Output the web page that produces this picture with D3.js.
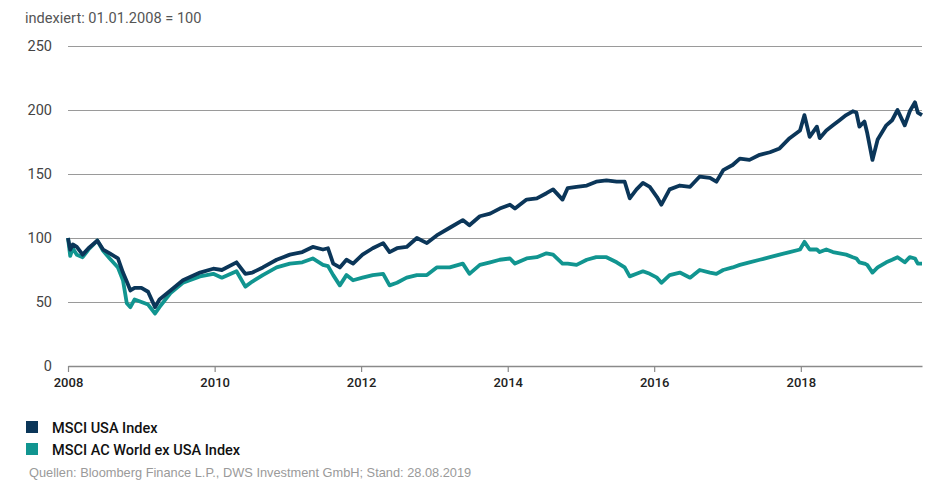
<!DOCTYPE html>
<html>
<head>
<meta charset="utf-8">
<script src="https://cdn.jsdelivr.net/npm/d3@7"></script>
<style>
  body { margin: 0; background: #fff; }
  svg { display: block; }
</style>
</head>
<body>
<div id="chart"></div>
<script>
// data (index, 01.01.2008 = 100)
var dates = ["2008-01-01","2008-01-12","2008-01-25","2008-02-14","2008-03-14","2008-04-12","2008-05-26","2008-06-24",
  "2008-07-27","2008-09-06","2008-10-01","2008-10-20","2008-11-07","2008-11-28","2009-01-01","2009-02-03","2009-03-10",
  "2009-04-01","2009-05-26","2009-07-27","2009-10-20","2009-12-25","2010-02-06","2010-04-20","2010-06-03","2010-07-08",
  "2010-08-29","2010-11-06","2011-01-11","2011-03-14","2011-05-05","2011-06-25","2011-07-20","2011-08-15","2011-09-17",
  "2011-10-20","2011-11-22","2012-01-08","2012-02-28","2012-04-20","2012-05-22","2012-06-28","2012-08-15","2012-10-05",
  "2012-11-24","2013-01-12","2013-03-18","2013-05-22","2013-06-24","2013-08-15","2013-10-05","2013-11-22","2014-01-12",
  "2014-02-06","2014-04-05","2014-05-26","2014-07-13","2014-08-15","2014-10-01","2014-10-27","2014-12-10","2015-01-30",
  "2015-03-18","2015-05-08","2015-06-28","2015-08-07","2015-09-01","2015-10-05","2015-11-06","2015-12-10","2016-01-15",
  "2016-02-06","2016-03-18","2016-05-08","2016-06-28","2016-08-15","2016-10-05","2016-11-06","2016-12-10","2017-01-26",
  "2017-03-03","2017-04-20","2017-06-10","2017-07-31","2017-09-17","2017-11-06","2017-12-28","2018-01-19","2018-02-14",
  "2018-03-22","2018-04-05","2018-05-08","2018-06-10","2018-07-13","2018-08-15","2018-09-17","2018-10-05","2018-10-20",
  "2018-11-14","2018-11-28","2018-12-24","2019-01-19","2019-03-03","2019-04-01","2019-04-28","2019-06-03","2019-06-28",
  "2019-07-24","2019-08-07","2019-08-28"];

var usa = [100,91,95,93,87,92,98,91,
  88,84,73,66,59,61,61,58,46,
  52,59,67,73,76,75,81,72,73,
  77,83,87,89,93,91,92,80,77,
  83,80,87,92,96,89,92,93,100,
  96,102,108,114,110,117,119,123,126,
  123,130,131,135,138,130,139,140,141,
  144,145,144,144,131,138,143,140,132,
  126,138,141,140,148,147,144,153,157,
  162,161,165,167,170,178,184,196,179,
  187,178,184,188,192,196,199,198,187,
  191,182,161,177,188,192,200,188,199,
  206,198,196];

var world = [100,86,92,87,85,91,98,90,
  84,77,67,49,46,52,50,48,41,
  46,57,65,70,72,69,74,62,66,
  71,77,80,81,84,79,78,71,63,
  71,67,69,71,72,63,65,69,71,
  71,77,77,80,72,79,81,83,84,
  80,84,85,88,87,80,80,79,83,
  85,85,81,77,70,72,74,72,69,
  65,71,73,69,75,73,72,75,77,
  79,81,83,85,87,89,91,97,91,
  91,89,91,89,88,87,85,84,81,
  80,79,73,77,81,83,85,81,85,
  84,80,80];

var seriesNames = ["MSCI USA Index", "MSCI AC World ex USA Index"];
var seriesColors = ["#0b3659", "#119590"];
var yTicks = [0, 50, 100, 150, 200, 250];
var xTickYears = [2008, 2010, 2012, 2014, 2016, 2018];

var w = 945, h = 499;
var parse = d3.timeParse("%Y-%m-%d");

var svg = d3.select("#chart").append("svg")
  .attr("width", w)
  .attr("height", h);

var xScale = d3.scaleTime()
  .domain([parse("2008-01-01"), parse("2019-08-28")])
  .range([68, 922]);
var yScale = d3.scaleLinear()
  .domain([0, 250])
  .range([366, 46]);

// title
svg.append("text")
  .attr("x", 25).attr("y", 23)
  .attr("font-family", "Roboto, sans-serif")
  .attr("font-size", "14.6px")
  .attr("fill", "#555")
  .text("indexiert: 01.01.2008 = 100");

// grid lines + y labels
var yAxis = d3.axisLeft(yScale)
  .tickValues(yTicks)
  .tickSize(-(922 - 68))
  .tickPadding(16);
var gy = svg.append("g")
  .attr("transform", "translate(68,0)")
  .call(yAxis);
gy.select(".domain").remove();
gy.selectAll(".tick line")
  .attr("stroke", "#9a9a9a")
  .attr("stroke-width", 1.2);
gy.selectAll(".tick text")
  .attr("font-family", "Roboto, sans-serif")
  .attr("font-size", "14.5px")
  .attr("fill", "#444");

// x axis
var xAxis = d3.axisBottom(xScale)
  .tickValues(xTickYears.map(function(y) { return new Date(y, 0, 1); }))
  .tickFormat(d3.timeFormat("%Y"))
  .tickSize(6)
  .tickSizeOuter(0)
  .tickPadding(6);
var gx = svg.append("g")
  .attr("transform", "translate(0,366)")
  .call(xAxis);
gx.select(".domain")
  .attr("stroke", "#8a8a8a")
  .attr("stroke-width", 1.5);
gx.selectAll(".tick line")
  .attr("stroke", "#8a8a8a")
  .attr("stroke-width", 1.2);
gx.selectAll(".tick text")
  .attr("font-family", "Roboto, sans-serif")
  .attr("font-size", "13px")
  .attr("font-weight", 500)
  .attr("fill", "#222");

// lines
var line = d3.line()
  .x(function(d) { return xScale(d[0]); })
  .y(function(d) { return yScale(d[1]); });

[world, usa].forEach(function(vals) {
  var pts = dates.map(function(d, i) { return [parse(d), vals[i]]; });
  svg.append("path")
    .datum(pts)
    .attr("fill", "none")
    .attr("stroke", vals === usa ? seriesColors[0] : seriesColors[1])
    .attr("stroke-width", 3.8)
    .attr("stroke-linejoin", "round")
    .attr("d", line);
});

// legend
seriesNames.forEach(function(name, i) {
  svg.append("rect")
    .attr("x", 26).attr("y", 421 + i * 22)
    .attr("width", 12).attr("height", 12)
    .attr("fill", seriesColors[i]);
  svg.append("text")
    .attr("x", 52).attr("y", 432.5 + i * 22)
    .attr("font-family", "Roboto, sans-serif")
    .attr("font-size", "14.5px")
    .attr("font-weight", 500)
    .attr("fill", "#111")
    .text(name);
});

// source
svg.append("text")
  .attr("x", 29).attr("y", 477)
  .attr("font-family", "'Liberation Sans', Arial, sans-serif")
  .attr("font-size", "12.8px")
  .attr("fill", "#9a9a9a")
  .text("Quellen: Bloomberg Finance L.P., DWS Investment GmbH; Stand: 28.08.2019");
</script>
</body>
</html>
